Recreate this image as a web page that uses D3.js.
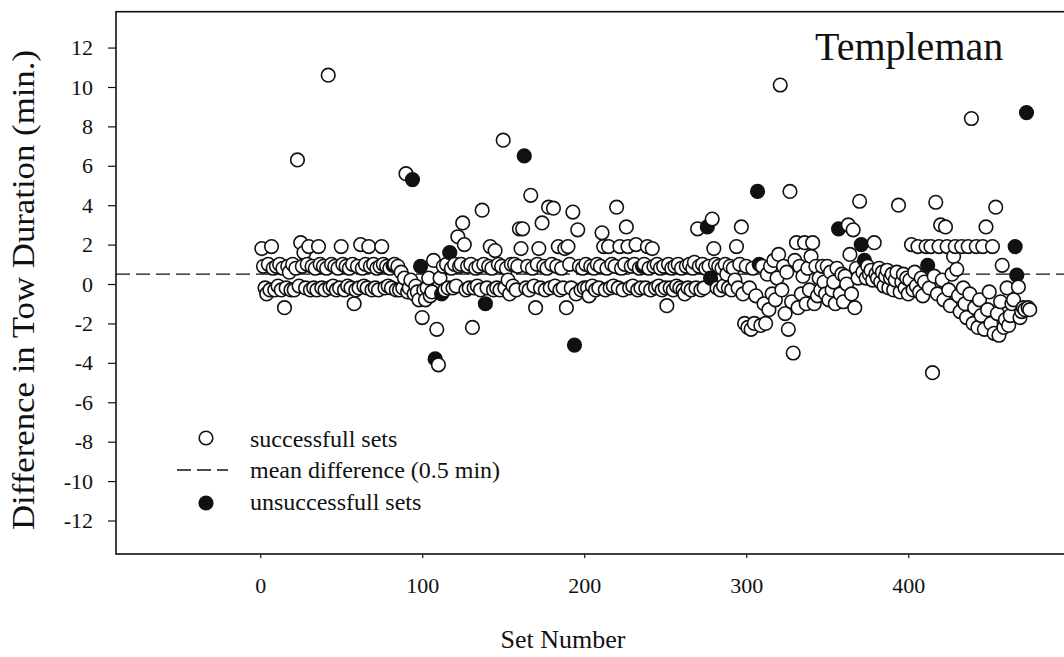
<!DOCTYPE html>
<html>
<head>
<meta charset="utf-8">
<script src="https://cdn.jsdelivr.net/npm/d3@7"></script>
<style>
  body { margin: 0; background: #fff; }
  text { font-family: "Liberation Serif", "Times New Roman", serif; fill: #111; }
</style>
</head>
<body>
<div id="container"></div>
<script>
/* CONSTANTS AND GLOBALS */
const width = 1064,
  height = 657,
  margin = { top: 11.7, bottom: 103, left: 116, right: -3 };

/* DATA */
// difference in tow duration (min.) for set numbers 1..475
const diffs = [
  1.8, 0.9, -0.2, -0.5, 1.0, -0.3, 1.9, 0.8, -0.3, 0.9,
  -0.1, 1.0, -0.3, 0.8, -1.2, -0.2, 0.9, 0.6, -0.3, 1.0,
  -0.3, 0.8, 6.3, -0.1, 2.1, 0.9, 1.6, -0.2, 1.0, 1.9,
  -0.3, 0.9, -0.2, 0.8, -0.3, 1.9, 1.0, -0.2, 0.9, -0.3,
  0.8, 10.6, -0.2, 1.0, -0.1, 0.9, -0.3, 0.8, -0.2, 1.9,
  1.0, -0.3, 0.9, -0.1, 0.8, -0.2, 1.0, -1.0, -0.3, 0.9,
  -0.2, 2.0, 0.8, -0.1, 1.0, -0.2, 1.9, 0.9, -0.3, 1.0,
  -0.2, 0.8, -0.3, 0.9, 1.9, 1.0, -0.2, 0.9, -0.1, 0.8,
  -0.2, 0.95, 1.0, -0.3, 0.9, -0.3, 0.6, -0.2, 0.3, 5.6,
  -0.4, -0.2, 0.2, 5.3, -0.5, -0.1, -0.4, -0.8, 0.9, -1.7,
  -0.3, -0.8, -0.2, 0.3, -0.6, -0.4, 1.2, -3.8, -2.3, -4.1,
  0.3, -0.5, 0.9, -0.3, 1.0, -0.2, 1.6, 0.8, -0.2, 1.0,
  -0.1, 2.4, 0.9, 1.0, 3.1, 2.0, -0.3, 0.9, -0.2, 1.0,
  -2.2, -0.2, 0.8, -0.1, 0.9, -0.3, 3.75, 1.0, -1.0, -0.2,
  0.9, 1.9, 0.8, -0.3, 1.7, -0.2, 1.0, -0.3, 0.9, 7.3,
  -0.2, 0.8, 0.2, -0.5, 1.0, -0.1, 1.0, -0.3, 0.9, 2.8,
  1.8, 2.8, 6.5, -0.2, 0.9, -0.3, 4.5, 0.8, -0.1, -1.2,
  1.0, 1.8, -0.2, 3.1, 0.9, -0.3, 0.8, 3.9, -0.2, 1.0,
  3.85, -0.1, 0.9, 1.9, -0.3, 0.8, -0.2, 1.8, -1.2, 1.9,
  1.0, -0.2, 3.65, -3.1, -0.5, 2.75, 0.9, -0.3, 0.8, -0.2,
  1.0, -0.2, -0.6, 0.9, -0.1, 0.8, -0.3, 1.0, -0.2, 0.9,
  2.6, 1.9, -0.3, 0.8, 1.9, -0.2, 1.0, -0.1, 0.9, 3.9,
  -0.2, 1.9, 0.8, -0.3, 1.0, 2.9, 1.9, -0.2, 0.9, -0.1,
  1.0, 2.0, -0.3, 0.8, -0.2, 0.9, 1.0, -0.2, 1.9, 0.8,
  -0.3, 1.8, 0.9, -0.2, 1.0, -0.1, 0.8, -0.3, 0.9, -0.2,
  -1.1, 1.0, -0.2, 0.8, -0.3, 0.9, -0.1, 1.0, -0.2, 0.8,
  -0.3, -0.5, 0.9, -0.2, 1.0, -0.3, 0.8, 1.1, -0.2, 2.8,
  0.9, -0.3, 1.0, -0.2, 0.8, 2.9, 0.9, 0.3, 3.3, 1.8,
  1.0, -0.2, 0.9, -0.3, 0.8, -0.1, 1.0, 0.5, -0.2, 0.9,
  -0.3, 0.8, 0.2, 1.9, -0.2, 1.0, 2.9, -0.5, -2.0, 0.9,
  -2.2, -0.2, -2.3, 0.8, -2.0, -0.6, 4.7, 1.0, -2.1, 0.9,
  -1.0, -2.0, 0.5, -1.3, 0.9, -0.5, 1.2, -0.8, 0.3, 1.5,
  10.1, -0.3, 0.9, -1.5, 0.6, -2.3, 4.7, -0.9, -3.5, 1.2,
  2.1, -1.2, 0.9, -0.5, 0.4, 2.1, -1.0, 0.8, -0.3, 1.4,
  2.1, -1.0, 0.9, -0.6, 0.3, -0.3, 0.9, 0.1, -0.5, 0.9,
  -0.8, 0.6, -0.3, 0.1, -1.0, 0.8, 2.8, -0.5, 0.5, -0.9,
  0.4, 0.0, 3.0, 1.5, -0.5, 2.75, -1.2, 0.8, 0.3, 4.2,
  2.0, 0.6, 1.2, 0.3, 0.9, 0.5, 0.7, 0.2, 2.1, 0.5,
  0.3, 0.8, 0.1, 0.6, -0.1, 0.4, 0.7, -0.2, 0.3, 0.5,
  -0.3, 0.2, 0.6, 4.0, -0.4, 0.1, 0.5, -0.2, 0.3, -0.5,
  0.2, 2.0, -0.3, 0.6, -0.1, 1.9, -0.4, 0.3, -0.6, 0.1,
  1.9, 0.95, -0.2, 1.9, -4.5, 0.4, 4.15, -0.5, 1.9, 3.0,
  0.2, -0.8, 2.9, 1.9, -0.3, -1.1, 0.5, 1.4, 1.9, 0.75,
  -0.6, -1.4, 1.9, -0.2, -1.0, -1.7, 1.9, -0.5, 8.4, -2.0,
  -1.2, 1.9, -2.2, -0.8, -1.6, 1.9, -2.3, 2.9, -1.3, -0.4,
  -2.0, 1.9, -2.5, 3.9, -1.5, -2.6, -0.9, 0.95, -2.2, -1.8,
  -0.2, -2.1, -1.6, -1.0, -0.8, 1.9, 0.45, -0.15, -1.7, -1.4,
  -1.2, -1.3, 8.7, -1.2, -1.3
];

// set numbers of the unsuccessful sets
const unsuccessfulSets = [82, 94, 99, 108, 112, 117, 139, 163, 194, 236, 276, 278,
  307, 308, 357, 371, 373, 412, 466, 467, 473];

const meanDiff = 0.5;
const xTicks = [0, 100, 200, 300, 400];
const yTicks = [-12, -10, -8, -6, -4, -2, 0, 2, 4, 6, 8, 10, 12];

const points = diffs.map((d, i) => ({
  set: i + 1,
  diff: d,
  failed: unsuccessfulSets.includes(i + 1)
}));

// SCALES
const xScale = d3.scaleLinear()
  .domain([-89, 498])
  .range([margin.left, width - margin.right]);

const yScale = d3.scaleLinear()
  .domain([-13.7, 13.82])
  .range([height - margin.bottom, margin.top]);

// CREATE SVG ELEMENT
const svg = d3.select("#container")
  .append("svg")
  .attr("width", width)
  .attr("height", height);

// AXES
const xAxisGroup = svg.append("g")
  .attr("transform", `translate(0, ${height - margin.bottom})`)
  .call(d3.axisBottom(xScale).tickValues(xTicks).tickSize(4).tickPadding(19).tickSizeOuter(0));

xAxisGroup.selectAll("text").attr("font-size", 22);

const yAxisGroup = svg.append("g")
  .attr("transform", `translate(${margin.left}, 0)`)
  .call(d3.axisLeft(yScale).tickValues(yTicks).tickFormat(d => String(d))
    .tickSize(8).tickPadding(15).tickSizeOuter(0));

yAxisGroup.selectAll("text").attr("font-size", 22);

svg.selectAll(".domain").remove();
svg.selectAll(".tick line").attr("stroke", "#111").attr("stroke-width", 1.2);
svg.selectAll(".tick text").style("font-family", "'Liberation Serif', serif").attr("fill", "#111");

// FRAME
svg.append("rect")
  .attr("x", margin.left)
  .attr("y", margin.top)
  .attr("width", width - margin.right - margin.left)
  .attr("height", height - margin.bottom - margin.top)
  .attr("fill", "none")
  .attr("stroke", "#111")
  .attr("stroke-width", 1.6);

// MEAN LINE
svg.append("line")
  .attr("x1", margin.left)
  .attr("x2", width)
  .attr("y1", yScale(meanDiff))
  .attr("y2", yScale(meanDiff))
  .attr("stroke", "#111")
  .attr("stroke-width", 1.3)
  .attr("stroke-dasharray", "14,6");

// POINTS
svg.append("g")
  .selectAll("circle")
  .data(points)
  .join("circle")
  .attr("cx", d => xScale(d.set))
  .attr("cy", d => yScale(d.diff))
  .attr("r", 6.8)
  .attr("fill", d => d.failed ? "#111" : "#fff")
  .attr("stroke", "#111")
  .attr("stroke-width", 1.6);

// LEGEND
svg.append("circle")
  .attr("cx", 206).attr("cy", 438).attr("r", 6.8)
  .attr("fill", "#fff").attr("stroke", "#111").attr("stroke-width", 1.6);

svg.append("line")
  .attr("x1", 177).attr("x2", 228).attr("y1", 470).attr("y2", 470)
  .attr("stroke", "#111").attr("stroke-width", 1.3)
  .attr("stroke-dasharray", "14,6");

svg.append("circle")
  .attr("cx", 206).attr("cy", 503).attr("r", 6.8)
  .attr("fill", "#111").attr("stroke", "#111").attr("stroke-width", 1.6);

svg.append("text")
  .attr("x", 250).attr("y", 447).attr("font-size", 24)
  .text("successfull sets");

svg.append("text")
  .attr("x", 250).attr("y", 478).attr("font-size", 24)
  .text("mean difference (0.5 min)");

svg.append("text")
  .attr("x", 250).attr("y", 510).attr("font-size", 24)
  .text("unsuccessfull sets");

// TITLES
svg.append("text")
  .attr("x", 815)
  .attr("y", 60)
  .attr("font-size", 40)
  .text("Templeman");

svg.append("text")
  .attr("x", 563)
  .attr("y", 648)
  .style("text-anchor", "middle")
  .attr("font-size", 26)
  .text("Set Number");

svg.append("text")
  .attr("x", -290)
  .attr("y", 34)
  .attr("transform", "rotate(-90)")
  .style("text-anchor", "middle")
  .attr("font-size", 31)
  .attr("textLength", 480)
  .attr("lengthAdjust", "spacingAndGlyphs")
  .text("Difference in Tow Duration (min.)");
</script>
</body>
</html>
